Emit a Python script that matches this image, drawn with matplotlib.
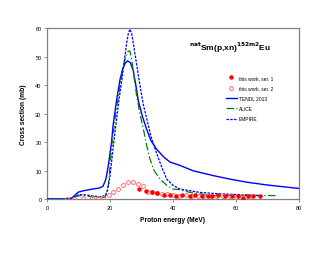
import matplotlib
matplotlib.use("Agg")
import matplotlib.pyplot as plt
from matplotlib.lines import Line2D

plt.rcParams['font.family'] = ['Liberation Sans', 'DejaVu Sans']

# TENDL-2013
tendl_e = [0, 7, 7.8, 9, 9.9, 12, 14, 16.8, 17.8, 18.7, 19.5, 20.5, 21, 22, 23.2, 24.0, 24.8, 25.6, 26.5, 27.4, 28.2, 29, 30.3, 31.6, 33, 34.8, 37, 39, 42.2, 46.4, 52.8, 58, 63.4, 70, 75, 80]
tendl_s = [0, 0, 0.2, 1.5, 2.4, 3.0, 3.4, 3.9, 4.5, 7, 12, 20, 26, 34, 42, 45.5, 47.6, 48.5, 47.8, 45, 40, 34.5, 29, 24.6, 20.5, 17.5, 14.8, 13.0, 11.8, 9.9, 8.2, 7.0, 5.9, 4.9, 4.3, 3.7]

# ALICE
alice_e = [0, 7, 9, 11, 14, 17, 18.5, 19.5, 20.5, 21.6, 22.5, 23.5, 24.3, 25, 25.7, 26.3, 26.9, 27.5, 28.5, 29.5, 30.6, 31.6, 32.7, 34, 35.9, 38, 40, 42, 45.4, 52.7, 60, 66, 73]
alice_s = [0, 0, 0.8, 1.3, 0.8, 0.5, 0.6, 5, 18, 28, 35, 42, 47, 50, 51.8, 52, 49, 44, 36, 30, 24.6, 19, 14, 10, 7, 4.8, 3.5, 3.3, 2.3, 1.2, 1.3, 1.2, 1.2]

# EMPIRE
empire_e = [0, 7, 8, 10, 12, 15, 17, 18.5, 19.2, 20, 21, 22.1, 23, 23.8, 24.5, 25.2, 25.8, 26.3, 26.9, 27.5, 28.5, 29.5, 30.6, 31.6, 33, 34.8, 36.5, 38, 40, 42.2, 48.6, 55, 62, 68.6]
empire_s = [0, 0, 0.5, 1.5, 1.5, 1.0, 0.8, 1.2, 3, 8, 18, 28, 36, 42, 48, 54, 58, 59.6, 58, 54, 47, 40, 33, 28.5, 22, 16, 11, 7, 4.8, 3.5, 2.3, 1.8, 1.5, 1.2]

# this work, ser. 1
ser1_e = [29.3, 31.5, 33.2, 35, 37, 39, 41, 43, 45.4, 47, 49.1, 51, 52.3, 54.4, 56.5, 58.6, 60.7, 62.3, 63.9, 65.5, 67.6]
ser1_s = [3.5, 2.8, 2.6, 2.0, 1.4, 1.4, 1.2, 1.3, 1.2, 1.5, 1.1, 1.2, 1.0, 1.3, 1.0, 1.1, 1.0, 0.3, 1.0, 0.9, 1.1]

# this work, ser. 2
ser2_e = [6.2, 8.7, 11.5, 14.2, 16.3, 17.9, 19.8, 21, 22.6, 24.2, 25.8, 27.2, 29, 30.6, 32.2, 33.2, 34.8, 36.4, 38, 40, 42, 44, 46, 48, 50, 52, 54, 56, 58, 60, 62, 64]
ser2_s = [0, 0, 0.3, 0.2, 0.2, 0.2, 1.4, 2.3, 3.5, 5.0, 5.8, 5.8, 5.3, 4.7, 2.3, 2.6, 2.0, 1.8, 1.6, 1.4, 1.2, 1.3, 1.1, 1.0, 1.1, 1.0, 0.9, 1.0, 0.9, 0.8, 0.9, 0.8]

x_ticks = [0, 20, 40, 60, 80]
y_ticks = [0, 10, 20, 30, 40, 50, 60]

fig = plt.figure(figsize=(3.30, 2.55), dpi=100)
ax = fig.add_axes([0.1424, 0.2157, 0.7636, 0.6703])

ax.plot(tendl_e, tendl_s, color='#0000ff', lw=1.0, ls='-', zorder=3)
ax.plot(alice_e, alice_s, color='#008000', lw=0.9, ls=(0, (6, 2, 1, 2)), zorder=3)
ax.plot(empire_e, empire_s, color='#0000ff', lw=0.9, ls=(0, (2, 1)), zorder=3)
ax.plot(ser2_e, ser2_s, ls='none', marker='o', ms=2.8, mfc='none', mec='#ff7070', mew=0.7, zorder=4)
ax.plot(ser1_e, ser1_s, ls='none', marker='o', ms=2.2, mfc='#ff0000', mec='#ff0000', zorder=5)

ax.set_xlim(0, 80)
ax.set_ylim(0, 60)
ax.set_xticks(x_ticks)
ax.set_yticks(y_ticks)
ax.tick_params(labelsize=4, length=2, width=0.6, color='#808080', pad=2)
for s in ax.spines.values():
    s.set_color('#808080')
    s.set_linewidth(0.9)

ax.set_xlabel('Proton energy (MeV)', fontsize=4.8, fontweight='bold', labelpad=5)
ax.set_ylabel('Cross section (mb)', fontsize=4.8, fontweight='bold', labelpad=6)

ax.text(0.565, 0.89, r'$^{\mathbf{nat}}$Sm(p,xn)$^{\mathbf{152m2}}$Eu', transform=ax.transAxes,
        fontsize=6, fontweight='bold', ha='left', va='center')

handles = [
    Line2D([], [], ls='none', marker='o', ms=2.2, mfc='#ff0000', mec='#ff0000'),
    Line2D([], [], ls='none', marker='o', ms=2.8, mfc='none', mec='#ff7070', mew=0.7),
    Line2D([], [], color='#0000ff', lw=1.0),
    Line2D([], [], color='#008000', lw=0.9, ls=(0, (6, 2, 1, 2))),
    Line2D([], [], color='#0000ff', lw=0.9, ls=(0, (2, 1))),
]
labels = ['this work, ser. 1', 'this work, ser. 2', 'TENDL 2013', 'ALICE', 'EMPIRE']
ax.legend(handles, labels, loc='upper left', bbox_to_anchor=(0.7, 0.74), fontsize=3.5,
          frameon=False, handlelength=2.2, handletextpad=0.5, labelspacing=1.1, borderpad=0)

fig.savefig('out.png', dpi=100)
